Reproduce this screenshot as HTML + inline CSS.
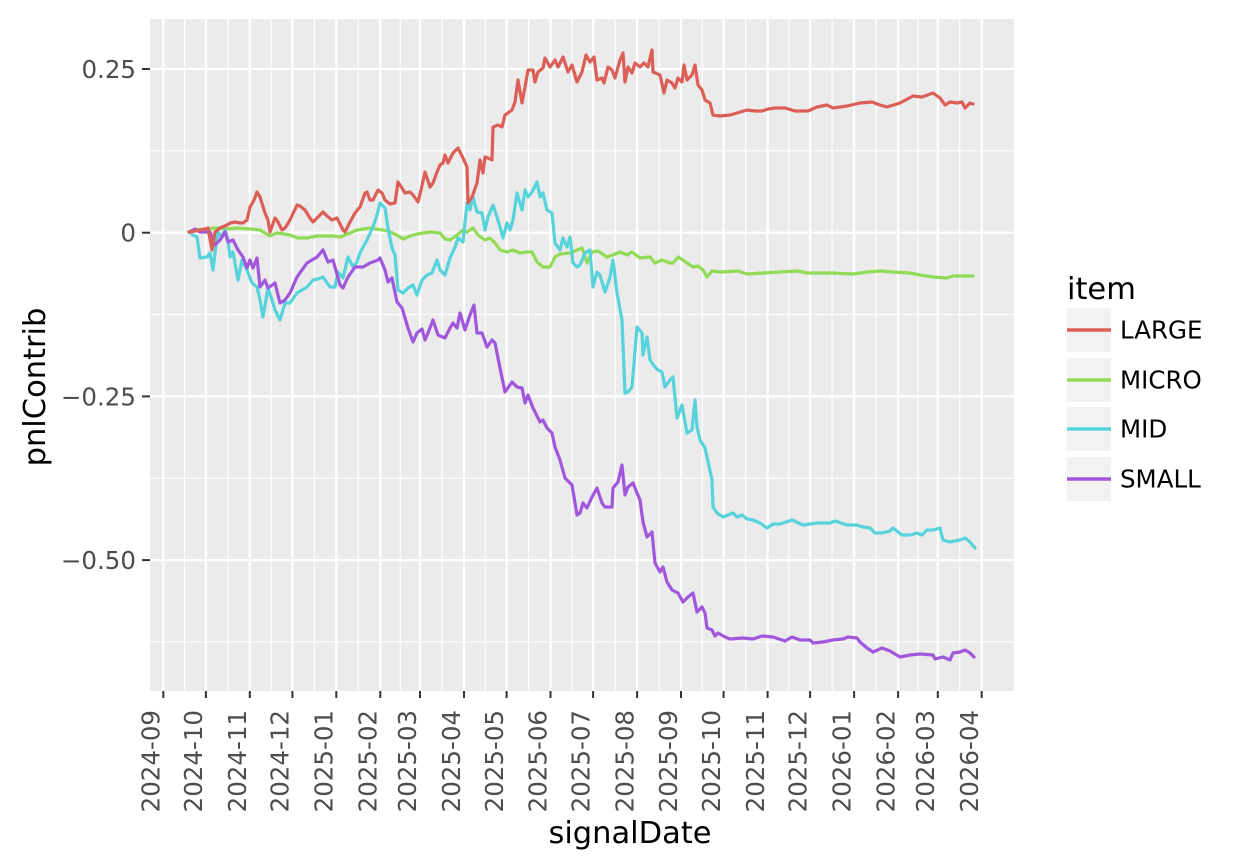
<!DOCTYPE html>
<html><head><meta charset="utf-8">
<style>
html,body{margin:0;padding:0;background:#fff;}
svg{display:block;}
text{font-family:"DejaVu Sans","Liberation Sans",sans-serif;}
</style></head>
<body>
<svg width="1255" height="868" viewBox="0 0 1255 868" xmlns="http://www.w3.org/2000/svg">
<rect x="0" y="0" width="1255" height="868" fill="#ffffff"/>
<rect x="150" y="19" width="864" height="672" fill="#EBEBEB"/>
<!-- minor grid -->
<g stroke="#ffffff" stroke-width="1.1">
<line x1="150" x2="1014" y1="150.8" y2="150.8"/>
<line x1="150" x2="1014" y1="314.5" y2="314.5"/>
<line x1="150" x2="1014" y1="478.2" y2="478.2"/>
<line x1="150" x2="1014" y1="641.9" y2="641.9"/>
<line y1="19" y2="691" x1="184.6" x2="184.6"/>
<line y1="19" y2="691" x1="227.9" x2="227.9"/>
<line y1="19" y2="691" x1="271.1" x2="271.1"/>
<line y1="19" y2="691" x1="314.4" x2="314.4"/>
<line y1="19" y2="691" x1="358.3" x2="358.3"/>
<line y1="19" y2="691" x1="400.2" x2="400.2"/>
<line y1="19" y2="691" x1="442.0" x2="442.0"/>
<line y1="19" y2="691" x1="485.3" x2="485.3"/>
<line y1="19" y2="691" x1="528.6" x2="528.6"/>
<line y1="19" y2="691" x1="571.8" x2="571.8"/>
<line y1="19" y2="691" x1="615.1" x2="615.1"/>
<line y1="19" y2="691" x1="659.1" x2="659.1"/>
<line y1="19" y2="691" x1="702.3" x2="702.3"/>
<line y1="19" y2="691" x1="745.6" x2="745.6"/>
<line y1="19" y2="691" x1="788.9" x2="788.9"/>
<line y1="19" y2="691" x1="832.1" x2="832.1"/>
<line y1="19" y2="691" x1="876.1" x2="876.1"/>
<line y1="19" y2="691" x1="918.0" x2="918.0"/>
<line y1="19" y2="691" x1="959.8" x2="959.8"/>
</g>
<!-- major grid -->
<g stroke="#ffffff" stroke-width="2.2">
<line x1="150" x2="1014" y1="69" y2="69"/>
<line x1="150" x2="1014" y1="232.7" y2="232.7"/>
<line x1="150" x2="1014" y1="396.4" y2="396.4"/>
<line x1="150" x2="1014" y1="560.1" y2="560.1"/>
<line y1="19" y2="691" x1="163.3" x2="163.3"/>
<line y1="19" y2="691" x1="205.9" x2="205.9"/>
<line y1="19" y2="691" x1="249.8" x2="249.8"/>
<line y1="19" y2="691" x1="292.4" x2="292.4"/>
<line y1="19" y2="691" x1="336.3" x2="336.3"/>
<line y1="19" y2="691" x1="380.3" x2="380.3"/>
<line y1="19" y2="691" x1="420.0" x2="420.0"/>
<line y1="19" y2="691" x1="464.0" x2="464.0"/>
<line y1="19" y2="691" x1="506.6" x2="506.6"/>
<line y1="19" y2="691" x1="550.5" x2="550.5"/>
<line y1="19" y2="691" x1="593.1" x2="593.1"/>
<line y1="19" y2="691" x1="637.1" x2="637.1"/>
<line y1="19" y2="691" x1="681.0" x2="681.0"/>
<line y1="19" y2="691" x1="723.6" x2="723.6"/>
<line y1="19" y2="691" x1="767.6" x2="767.6"/>
<line y1="19" y2="691" x1="810.1" x2="810.1"/>
<line y1="19" y2="691" x1="854.1" x2="854.1"/>
<line y1="19" y2="691" x1="898.1" x2="898.1"/>
<line y1="19" y2="691" x1="937.8" x2="937.8"/>
<line y1="19" y2="691" x1="981.7" x2="981.7"/>
</g>
<!-- series -->
<g fill="none" stroke-width="3.2" stroke-linejoin="round" stroke-linecap="round">
<polyline stroke="#91db57" points="189,232 197,230 205,229 217,228 225,229 237,228 250,229 260,230 265,233 270,236 277,233 284,234 290,235 298,238 307,238 317,236 325,236 333,236 340,237 350,233 357,230 370,228 383,230 390,232 397,235 403,239 410,236 417,234 430,232 440,233 445,239 450,240 457,235 463,230 467,232 473,228 478,235 485,240 490,238 495,243 500,250 507,252 513,250 520,253 527,252 532,252 537,262 543,267 550,267 555,257 560,254 570,253 577,250 582,248 587,263 592,252 598,251 607,257 613,255 620,252 627,255 632,252 640,258 650,257 655,263 662,260 670,263 673,263 678,257 683,260 687,263 693,267 698,266 703,270 707,277 712,271 720,272 738,271 747,274 763,273 780,272 797,271 807,273 830,273 853,274 867,272 880,271 893,272 910,273 920,275 933,277 947,278 953,276 973,276"/>
<polyline stroke="#57d3db" points="189,232 193,235 197,237 200,258 207,257 210,253 213,270 216,245 218,232 222,237 225,230 228,240 230,257 233,252 238,280 242,260 247,270 252,283 257,287 260,300 263,317 268,288 272,300 275,310 280,320 285,303 290,303 297,293 302,290 307,287 313,280 318,279 323,277 330,287 335,287 338,272 343,278 348,257 353,267 357,262 360,253 367,240 373,227 377,215 380,203 385,208 388,228 392,248 395,255 398,290 403,293 408,288 413,285 417,295 422,280 427,275 432,273 437,260 440,270 445,275 450,258 455,247 458,238 463,242 467,203 470,210 473,197 477,212 482,213 485,230 488,217 493,205 497,217 500,227 503,238 507,223 510,230 513,220 517,193 522,210 525,190 528,197 532,192 537,182 540,197 543,193 547,210 552,213 555,243 560,250 563,238 567,247 570,237 573,263 577,267 580,265 585,253 590,250 593,287 597,272 600,275 605,292 610,277 613,260 617,293 622,320 625,393 628,392 632,387 637,327 642,333 643,355 647,337 650,360 655,367 658,370 662,372 665,387 670,380 673,377 677,418 682,405 687,433 692,430 695,400 697,427 700,440 705,448 712,480 713,507 717,513 723,517 733,513 737,517 742,515 747,519 753,520 760,523 767,528 773,524 780,524 792,520 803,525 817,523 830,523 835,521 847,525 857,525 863,527 870,528 875,533 882,533 890,531 893,528 902,535 910,535 917,533 922,535 927,530 933,530 940,528 943,540 950,542 960,540 965,538 970,542 975,548"/>
<polyline stroke="#a157db" points="189,232 195,229 200,232 210,232 215,245 220,240 225,232 228,242 233,240 238,250 243,257 247,268 250,260 253,268 257,258 260,287 265,280 268,288 275,283 280,303 285,300 290,293 297,277 302,270 307,263 312,260 317,257 323,250 328,262 333,260 340,285 343,288 348,277 355,267 363,267 370,263 378,260 380,258 385,270 388,282 392,278 397,302 402,308 405,318 408,328 413,342 417,333 422,329 425,340 428,333 433,320 438,335 445,338 450,328 453,323 457,328 460,313 465,330 470,315 474,305 477,333 482,333 487,347 492,340 495,343 500,368 505,392 512,382 517,387 522,388 525,403 528,395 533,408 540,422 543,420 547,428 552,433 555,447 560,460 565,478 572,485 577,515 580,513 583,503 587,508 592,497 597,488 602,503 605,507 612,507 613,488 618,482 622,465 625,495 628,487 633,483 637,493 640,500 643,522 647,537 652,532 655,563 660,572 663,567 667,582 672,590 678,593 683,602 688,597 693,593 697,612 702,607 705,613 707,628 712,630 715,636 718,633 725,637 730,639 743,638 753,639 762,636 773,637 785,641 792,637 800,640 810,640 813,643 823,642 833,640 843,639 848,637 857,638 860,642 867,648 873,652 882,648 890,651 900,657 910,655 920,654 933,655 935,659 943,657 950,660 953,653 960,652 965,650 970,653 974,657"/>
<polyline stroke="#db5f57" points="189,232 195,231 200,230 205,229 208,228 212,250 215,232 220,228 227,225 230,223 235,222 240,223 243,223 247,220 250,207 254,200 257,192 260,197 265,213 268,220 270,232 275,218 278,222 282,230 285,228 287,225 290,220 297,205 300,206 305,210 310,218 313,222 317,218 323,212 327,216 332,220 337,218 343,230 345,232 350,222 355,213 360,207 365,193 367,192 370,200 373,200 378,190 382,193 385,200 390,204 395,203 398,182 402,188 405,193 410,192 413,195 418,202 421,190 425,172 430,187 433,183 437,172 440,165 443,163 445,155 448,163 453,153 458,148 463,158 467,167 468,203 472,197 477,183 480,160 483,173 485,157 488,158 492,160 493,127 498,125 502,127 505,115 512,110 515,102 518,80 522,103 525,87 528,70 533,70 535,82 538,72 543,68 545,58 550,67 555,60 558,67 563,57 568,72 572,65 577,82 582,72 586,55 590,62 594,57 597,80 602,78 604,83 608,67 612,70 615,78 620,60 623,53 625,82 628,67 632,73 635,63 640,67 644,63 648,67 652,50 653,72 660,75 664,93 667,80 672,83 675,88 678,78 682,82 684,65 687,80 692,75 695,65 698,85 702,90 705,100 710,103 713,115 720,116 730,115 737,113 747,110 755,111 762,111 768,109 775,108 785,108 795,111 808,111 817,107 827,105 833,108 847,106 860,103 872,102 880,105 887,107 900,103 913,96 922,97 933,93 940,98 945,105 950,102 957,103 962,102 965,108 970,103 973,104"/>
</g>
<!-- ticks -->
<g stroke="#333333" stroke-width="2">
<line x1="142" x2="150" y1="69" y2="69"/>
<line x1="142" x2="150" y1="232.7" y2="232.7"/>
<line x1="142" x2="150" y1="396.4" y2="396.4"/>
<line x1="142" x2="150" y1="560.1" y2="560.1"/>
<line y1="691" y2="698" x1="163.3" x2="163.3"/>
<line y1="691" y2="698" x1="205.9" x2="205.9"/>
<line y1="691" y2="698" x1="249.8" x2="249.8"/>
<line y1="691" y2="698" x1="292.4" x2="292.4"/>
<line y1="691" y2="698" x1="336.3" x2="336.3"/>
<line y1="691" y2="698" x1="380.3" x2="380.3"/>
<line y1="691" y2="698" x1="420.0" x2="420.0"/>
<line y1="691" y2="698" x1="464.0" x2="464.0"/>
<line y1="691" y2="698" x1="506.6" x2="506.6"/>
<line y1="691" y2="698" x1="550.5" x2="550.5"/>
<line y1="691" y2="698" x1="593.1" x2="593.1"/>
<line y1="691" y2="698" x1="637.1" x2="637.1"/>
<line y1="691" y2="698" x1="681.0" x2="681.0"/>
<line y1="691" y2="698" x1="723.6" x2="723.6"/>
<line y1="691" y2="698" x1="767.6" x2="767.6"/>
<line y1="691" y2="698" x1="810.1" x2="810.1"/>
<line y1="691" y2="698" x1="854.1" x2="854.1"/>
<line y1="691" y2="698" x1="898.1" x2="898.1"/>
<line y1="691" y2="698" x1="937.8" x2="937.8"/>
<line y1="691" y2="698" x1="981.7" x2="981.7"/>
</g>
<!-- y labels -->
<g fill="#4D4D4D" font-size="24.5" text-anchor="end">
<text x="136" y="77.9">0.25</text>
<text x="136" y="241.6">0</text>
<text x="136" y="405.3">−0.25</text>
<text x="136" y="569">−0.50</text>
</g>
<!-- x labels -->
<g fill="#4D4D4D" font-size="24.5" text-anchor="end">
<text transform="translate(159.5,710) rotate(-90)">2024-09</text>
<text transform="translate(202.1,710) rotate(-90)">2024-10</text>
<text transform="translate(246,710) rotate(-90)">2024-11</text>
<text transform="translate(288.6,710) rotate(-90)">2024-12</text>
<text transform="translate(332.5,710) rotate(-90)">2025-01</text>
<text transform="translate(376.5,710) rotate(-90)">2025-02</text>
<text transform="translate(416.2,710) rotate(-90)">2025-03</text>
<text transform="translate(460.2,710) rotate(-90)">2025-04</text>
<text transform="translate(502.8,710) rotate(-90)">2025-05</text>
<text transform="translate(546.7,710) rotate(-90)">2025-06</text>
<text transform="translate(589.3,710) rotate(-90)">2025-07</text>
<text transform="translate(633.3,710) rotate(-90)">2025-08</text>
<text transform="translate(677.2,710) rotate(-90)">2025-09</text>
<text transform="translate(719.8,710) rotate(-90)">2025-10</text>
<text transform="translate(763.8,710) rotate(-90)">2025-11</text>
<text transform="translate(806.3,710) rotate(-90)">2025-12</text>
<text transform="translate(850.3,710) rotate(-90)">2026-01</text>
<text transform="translate(894.3,710) rotate(-90)">2026-02</text>
<text transform="translate(934,710) rotate(-90)">2026-03</text>
<text transform="translate(977.9,710) rotate(-90)">2026-04</text>
</g>
<!-- axis titles -->
<text x="630" y="843" font-size="30.5" fill="#000" text-anchor="middle">signalDate</text>
<text transform="translate(45,387) rotate(-90)" font-size="30.5" fill="#000" text-anchor="middle">pnlContrib</text>
<!-- legend -->
<text x="1067" y="299" font-size="30.5" fill="#000">item</text>
<g fill="#F2F2F2">
<rect x="1067" y="308" width="44" height="44"/>
<rect x="1067" y="358" width="44" height="44"/>
<rect x="1067" y="407" width="44" height="44"/>
<rect x="1067" y="457" width="44" height="44"/>
</g>
<g stroke-width="3.6">
<line x1="1067" x2="1111" y1="330" y2="330" stroke="#db5f57"/>
<line x1="1067" x2="1111" y1="380" y2="380" stroke="#91db57"/>
<line x1="1067" x2="1111" y1="429" y2="429" stroke="#57d3db"/>
<line x1="1067" x2="1111" y1="479" y2="479" stroke="#a157db"/>
</g>
<g fill="#000" font-size="24.5">
<text x="1120" y="338.5">LARGE</text>
<text x="1120" y="388.5">MICRO</text>
<text x="1120" y="437.5">MID</text>
<text x="1120" y="487.5">SMALL</text>
</g>
</svg>
</body></html>
